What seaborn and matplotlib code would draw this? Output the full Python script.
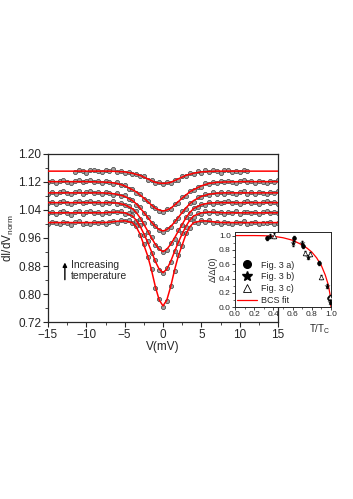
import matplotlib
matplotlib.use("Agg")
import matplotlib.pyplot as plt
import matplotlib.ticker as mticker
from matplotlib.lines import Line2D
import pandas as pd
import seaborn as sns

# bias voltage of the measured points (mV)
v_data = [-15.0, -14.5, -14.0, -13.5, -13.0, -12.5, -12.0, -11.5, -11.0, -10.5,
          -10.0, -9.5, -9.0, -8.5, -8.0, -7.5, -7.0, -6.5, -6.0, -5.5,
          -5.0, -4.5, -4.0, -3.5, -3.0, -2.5, -2.0, -1.5, -1.0, -0.5,
          0.0,
          0.5, 1.0, 1.5, 2.0, 2.5, 3.0, 3.5, 4.0, 4.5, 5.0,
          5.5, 6.0, 6.5, 7.0, 7.5, 8.0, 8.5, 9.0, 9.5, 10.0,
          10.5, 11.0, 11.5, 12.0, 12.5, 13.0, 13.5, 14.0, 14.5, 15.0]

# measured dI/dV, lowest temperature (bottom) to highest (top)
dip_1 = [1.001, 1.007, 1.002, 0.999, 1.006, 1.003, 0.998, 1.005, 1.008, 1.001,
         1.004, 0.999, 1.006, 1.003, 1.007, 1.000, 1.006, 1.009, 1.004, 1.012,
         1.008, 1.011, 1.002, 0.995, 0.968, 0.943, 0.905, 0.871, 0.818, 0.786,
         0.764,
         0.781, 0.824, 0.865, 0.912, 0.937, 0.974, 0.989, 1.007, 1.004, 1.011,
         1.006, 1.010, 1.003, 1.007, 1.001, 1.006, 1.002, 0.999, 1.006, 1.003,
         1.008, 1.000, 1.004, 1.007, 0.999, 1.004, 1.002, 1.006, 1.000, 1.003]
dip_2 = [1.030, 1.035, 1.028, 1.033, 1.037, 1.031, 1.027, 1.034, 1.036, 1.029,
         1.033, 1.038, 1.030, 1.034, 1.028, 1.035, 1.031, 1.037, 1.033, 1.036,
         1.029, 1.031, 1.025, 1.008, 0.997, 0.969, 0.951, 0.918, 0.896, 0.868,
         0.859,
         0.874, 0.890, 0.924, 0.945, 0.975, 0.991, 1.014, 1.020, 1.031, 1.029,
         1.036, 1.031, 1.038, 1.030, 1.035, 1.029, 1.034, 1.031, 1.036, 1.028,
         1.033, 1.035, 1.030, 1.034, 1.028, 1.033, 1.036, 1.030, 1.034, 1.031]
dip_3 = [1.059, 1.064, 1.058, 1.062, 1.066, 1.060, 1.057, 1.063, 1.065, 1.059,
         1.062, 1.067, 1.060, 1.063, 1.058, 1.064, 1.061, 1.066, 1.058, 1.061,
         1.053, 1.052, 1.041, 1.036, 1.015, 1.002, 0.977, 0.963, 0.939, 0.931,
         0.919,
         0.925, 0.945, 0.957, 0.983, 0.996, 1.021, 1.030, 1.047, 1.048, 1.058,
         1.055, 1.063, 1.058, 1.064, 1.059, 1.062, 1.066, 1.060, 1.063, 1.058,
         1.062, 1.065, 1.059, 1.063, 1.057, 1.062, 1.065, 1.060, 1.063, 1.058]
dip_4 = [1.087, 1.092, 1.086, 1.090, 1.094, 1.088, 1.085, 1.091, 1.093, 1.087,
         1.090, 1.095, 1.088, 1.091, 1.086, 1.092, 1.089, 1.084, 1.088, 1.080,
         1.082, 1.071, 1.069, 1.055, 1.048, 1.030, 1.021, 1.002, 0.995, 0.982,
         0.978,
         0.986, 0.990, 1.008, 1.016, 1.036, 1.043, 1.061, 1.064, 1.076, 1.077,
         1.085, 1.083, 1.090, 1.086, 1.091, 1.087, 1.092, 1.088, 1.085, 1.091,
         1.094, 1.087, 1.090, 1.086, 1.092, 1.089, 1.085, 1.091, 1.088, 1.093]
dip_5 = [1.119, 1.124, 1.118, 1.122, 1.126, 1.120, 1.117, 1.123, 1.125, 1.119,
         1.122, 1.127, 1.120, 1.123, 1.118, 1.124, 1.121, 1.115, 1.119, 1.111,
         1.112, 1.101, 1.100, 1.089, 1.085, 1.071, 1.066, 1.051, 1.047, 1.038,
         1.035,
         1.042, 1.043, 1.057, 1.061, 1.077, 1.080, 1.095, 1.096, 1.107, 1.106,
         1.116, 1.113, 1.121, 1.117, 1.123, 1.119, 1.124, 1.120, 1.117, 1.123,
         1.126, 1.119, 1.122, 1.118, 1.124, 1.121, 1.117, 1.123, 1.120, 1.125]
# highest temperature curve was only measured between -11.5 and 11 mV
dip_6 = [1.149, 1.154, 1.151, 1.147, 1.153, 1.155, 1.150, 1.148, 1.154, 1.151,
         1.156, 1.149, 1.152, 1.146, 1.149, 1.143, 1.144, 1.137, 1.136, 1.127,
         1.126, 1.117, 1.119,
         1.114,
         1.119, 1.117, 1.126, 1.127, 1.136, 1.137, 1.145, 1.143, 1.150, 1.147,
         1.153, 1.149, 1.154, 1.150, 1.147, 1.153, 1.155, 1.149, 1.152, 1.148,
         1.154, 1.150]
v_data_6 = v_data[7:53]

# BCS fits, read at |V| (symmetric about zero bias)
v_fit_half = [0, 0.5, 1, 1.5, 2, 2.5, 3, 3.5, 4, 5, 6, 7, 8, 10, 12, 15]
fit_1 = [0.766, 0.783, 0.821, 0.868, 0.909, 0.940, 0.971, 0.992, 1.004, 1.009, 1.008, 1.005, 1.004, 1.004, 1.004, 1.004]
fit_2 = [0.861, 0.871, 0.893, 0.921, 0.948, 0.972, 0.994, 1.011, 1.023, 1.032, 1.034, 1.033, 1.032, 1.032, 1.032, 1.032]
fit_3 = [0.921, 0.928, 0.942, 0.960, 0.980, 0.999, 1.018, 1.033, 1.044, 1.055, 1.060, 1.061, 1.061, 1.061, 1.061, 1.061]
fit_4 = [0.980, 0.984, 0.993, 1.005, 1.019, 1.033, 1.046, 1.058, 1.067, 1.079, 1.085, 1.088, 1.089, 1.089, 1.089, 1.089]
fit_5 = [1.037, 1.040, 1.045, 1.054, 1.064, 1.074, 1.083, 1.092, 1.098, 1.109, 1.116, 1.119, 1.120, 1.121, 1.121, 1.121]
fit_6 = [1.116, 1.117, 1.119, 1.124, 1.129, 1.134, 1.139, 1.142, 1.145, 1.149, 1.150, 1.151, 1.151, 1.151, 1.151, 1.151]

# inset: gap vs reduced temperature
t_a = [0.33, 0.615, 0.71, 0.87, 0.98]
gap_a = [0.97, 0.96, 0.85, 0.62, 0.13]
t_b = [0.365, 0.60, 0.695, 0.76, 0.955, 0.99]
gap_b = [0.99, 0.89, 0.90, 0.70, 0.30, 0.07]
t_c = [0.41, 0.73, 0.78, 0.90, 0.985]
gap_c = [1.00, 0.76, 0.74, 0.42, 0.14]
err_gap = 0.03
t_bcs = [0.0, 0.1, 0.2, 0.3, 0.4, 0.5, 0.6, 0.7, 0.75, 0.8, 0.85, 0.9, 0.94, 0.97, 0.99, 1.0]
gap_bcs = [1.0, 1.0, 1.0, 0.998, 0.99, 0.97, 0.935, 0.87, 0.825, 0.77, 0.69, 0.58, 0.45, 0.32, 0.18, 0.0]

sns.set_style("ticks")
plt.rcParams["font.family"] = ["Liberation Sans", "DejaVu Sans"]
plt.rcParams["mathtext.default"] = "regular"

# long-form tables for seaborn
records = []
for name, vv, yy in [("1", v_data, dip_1), ("2", v_data, dip_2), ("3", v_data, dip_3),
                     ("4", v_data, dip_4), ("5", v_data, dip_5), ("6", v_data_6, dip_6)]:
    for v, y in zip(vv, yy):
        records.append({"curve": name, "V": v, "G": y})
data_df = pd.DataFrame.from_records(records)

fit_records = []
for name, ff in [("1", fit_1), ("2", fit_2), ("3", fit_3), ("4", fit_4), ("5", fit_5), ("6", fit_6)]:
    for v, y in zip([-x for x in v_fit_half[:0:-1]] + v_fit_half, ff[:0:-1] + ff):
        fit_records.append({"curve": name, "V": v, "G": y})
fit_df = pd.DataFrame.from_records(fit_records)

fig = plt.figure(figsize=(3.53, 4.99), dpi=100)
ax = fig.add_axes([0.136, 0.3547, 0.6516, 0.3367])

sns.scatterplot(data=data_df, x="V", y="G", ax=ax, color="#a0a0a0", edgecolor="#3a3a3a",
                linewidth=0.5, s=9, legend=False, zorder=2)
sns.lineplot(data=fit_df, x="V", y="G", units="curve", estimator=None, ax=ax,
             color="red", linewidth=1.1, legend=False, zorder=3)

ax.set_xlim(-15, 15)
ax.set_ylim(0.72, 1.20)
ax.xaxis.set_major_locator(mticker.MultipleLocator(5))
ax.xaxis.set_minor_locator(mticker.MultipleLocator(2.5))
ax.yaxis.set_major_locator(mticker.MultipleLocator(0.08))
ax.yaxis.set_minor_locator(mticker.MultipleLocator(0.04))
ax.yaxis.set_major_formatter(mticker.FormatStrFormatter("%.2f"))
ax.tick_params(which="major", direction="out", length=3.5, width=0.8, labelsize=8.5, pad=1.5)
ax.tick_params(which="minor", direction="out", length=2, width=0.6)
for sp in ax.spines.values():
    sp.set_linewidth(0.9)
ax.set_xlabel("V(mV)", fontsize=8.5, labelpad=0)
ax.set_ylabel("dI/dV$_{norm}$", fontsize=8.5, labelpad=1.5)

ax.annotate("", xy=(-12.8, 0.898), xytext=(-12.8, 0.833),
            arrowprops=dict(arrowstyle="-|>", color="black", lw=1.0, mutation_scale=6))
ax.text(-12.0, 0.868, "Increasing\ntemperature", fontsize=7.5, ha="left", va="center",
        linespacing=1.1)

# inset
ins = fig.add_axes([0.6657, 0.3842, 0.272, 0.1509], facecolor="white", zorder=5)
sns.lineplot(x=t_bcs, y=gap_bcs, ax=ins, color="red", linewidth=0.9, legend=False, zorder=2)
ins.errorbar(t_a, gap_a, yerr=err_gap, fmt="none", ecolor="black", elinewidth=0.5, capsize=1, zorder=3)
ins.errorbar(t_b, gap_b, yerr=err_gap, fmt="none", ecolor="black", elinewidth=0.5, capsize=1, zorder=3)
ins.errorbar(t_c, gap_c, yerr=err_gap, fmt="none", ecolor="black", elinewidth=0.5, capsize=1, zorder=3)
sns.scatterplot(x=t_a, y=gap_a, ax=ins, marker="o", color="black", s=11, linewidth=0, zorder=4)
sns.scatterplot(x=t_b, y=gap_b, ax=ins, marker="*", color="black", s=20, linewidth=0, zorder=4)
sns.scatterplot(x=t_c, y=gap_c, ax=ins, marker="^", facecolor="white", edgecolor="black",
                s=11, linewidth=0.5, zorder=4)

ins.set_xlim(0, 1.0)
ins.set_ylim(0, 1.05)
ins.xaxis.set_major_locator(mticker.MultipleLocator(0.2))
ins.xaxis.set_minor_locator(mticker.MultipleLocator(0.1))
ins.yaxis.set_major_locator(mticker.MultipleLocator(0.2))
ins.yaxis.set_minor_locator(mticker.MultipleLocator(0.1))
ins.xaxis.set_major_formatter(mticker.FormatStrFormatter("%.1f"))
ins.yaxis.set_major_formatter(mticker.FormatStrFormatter("%.1f"))
ins.tick_params(which="major", direction="out", length=2, width=0.6, labelsize=6, pad=1)
ins.tick_params(which="minor", direction="out", length=1.2, width=0.5)
for sp in ins.spines.values():
    sp.set_linewidth(0.7)
ins.set_ylabel("Δ/Δ(0)", fontsize=6.5, labelpad=1)
ins.set_xlabel("T/T$_C$", fontsize=7, labelpad=0)
ins.xaxis.set_label_coords(0.88, -0.2)

handles = [Line2D([], [], marker="o", color="black", linestyle="none", markersize=5.5),
           Line2D([], [], marker="*", color="black", linestyle="none", markersize=7),
           Line2D([], [], marker="^", markerfacecolor="white", markeredgecolor="black",
                  color="black", linestyle="none", markersize=5.5, markeredgewidth=0.6),
           Line2D([], [], color="red", linewidth=0.9)]
ins.legend(handles, ["Fig. 3 a)", "Fig. 3 b)", "Fig. 3 c)", "BCS fit"], loc="lower left",
           bbox_to_anchor=(-0.04, -0.05), frameon=False, fontsize=6.5, handlelength=2.2,
           handletextpad=0.4, labelspacing=0.3, borderpad=0.2)

fig.savefig("out.png", dpi=100)
